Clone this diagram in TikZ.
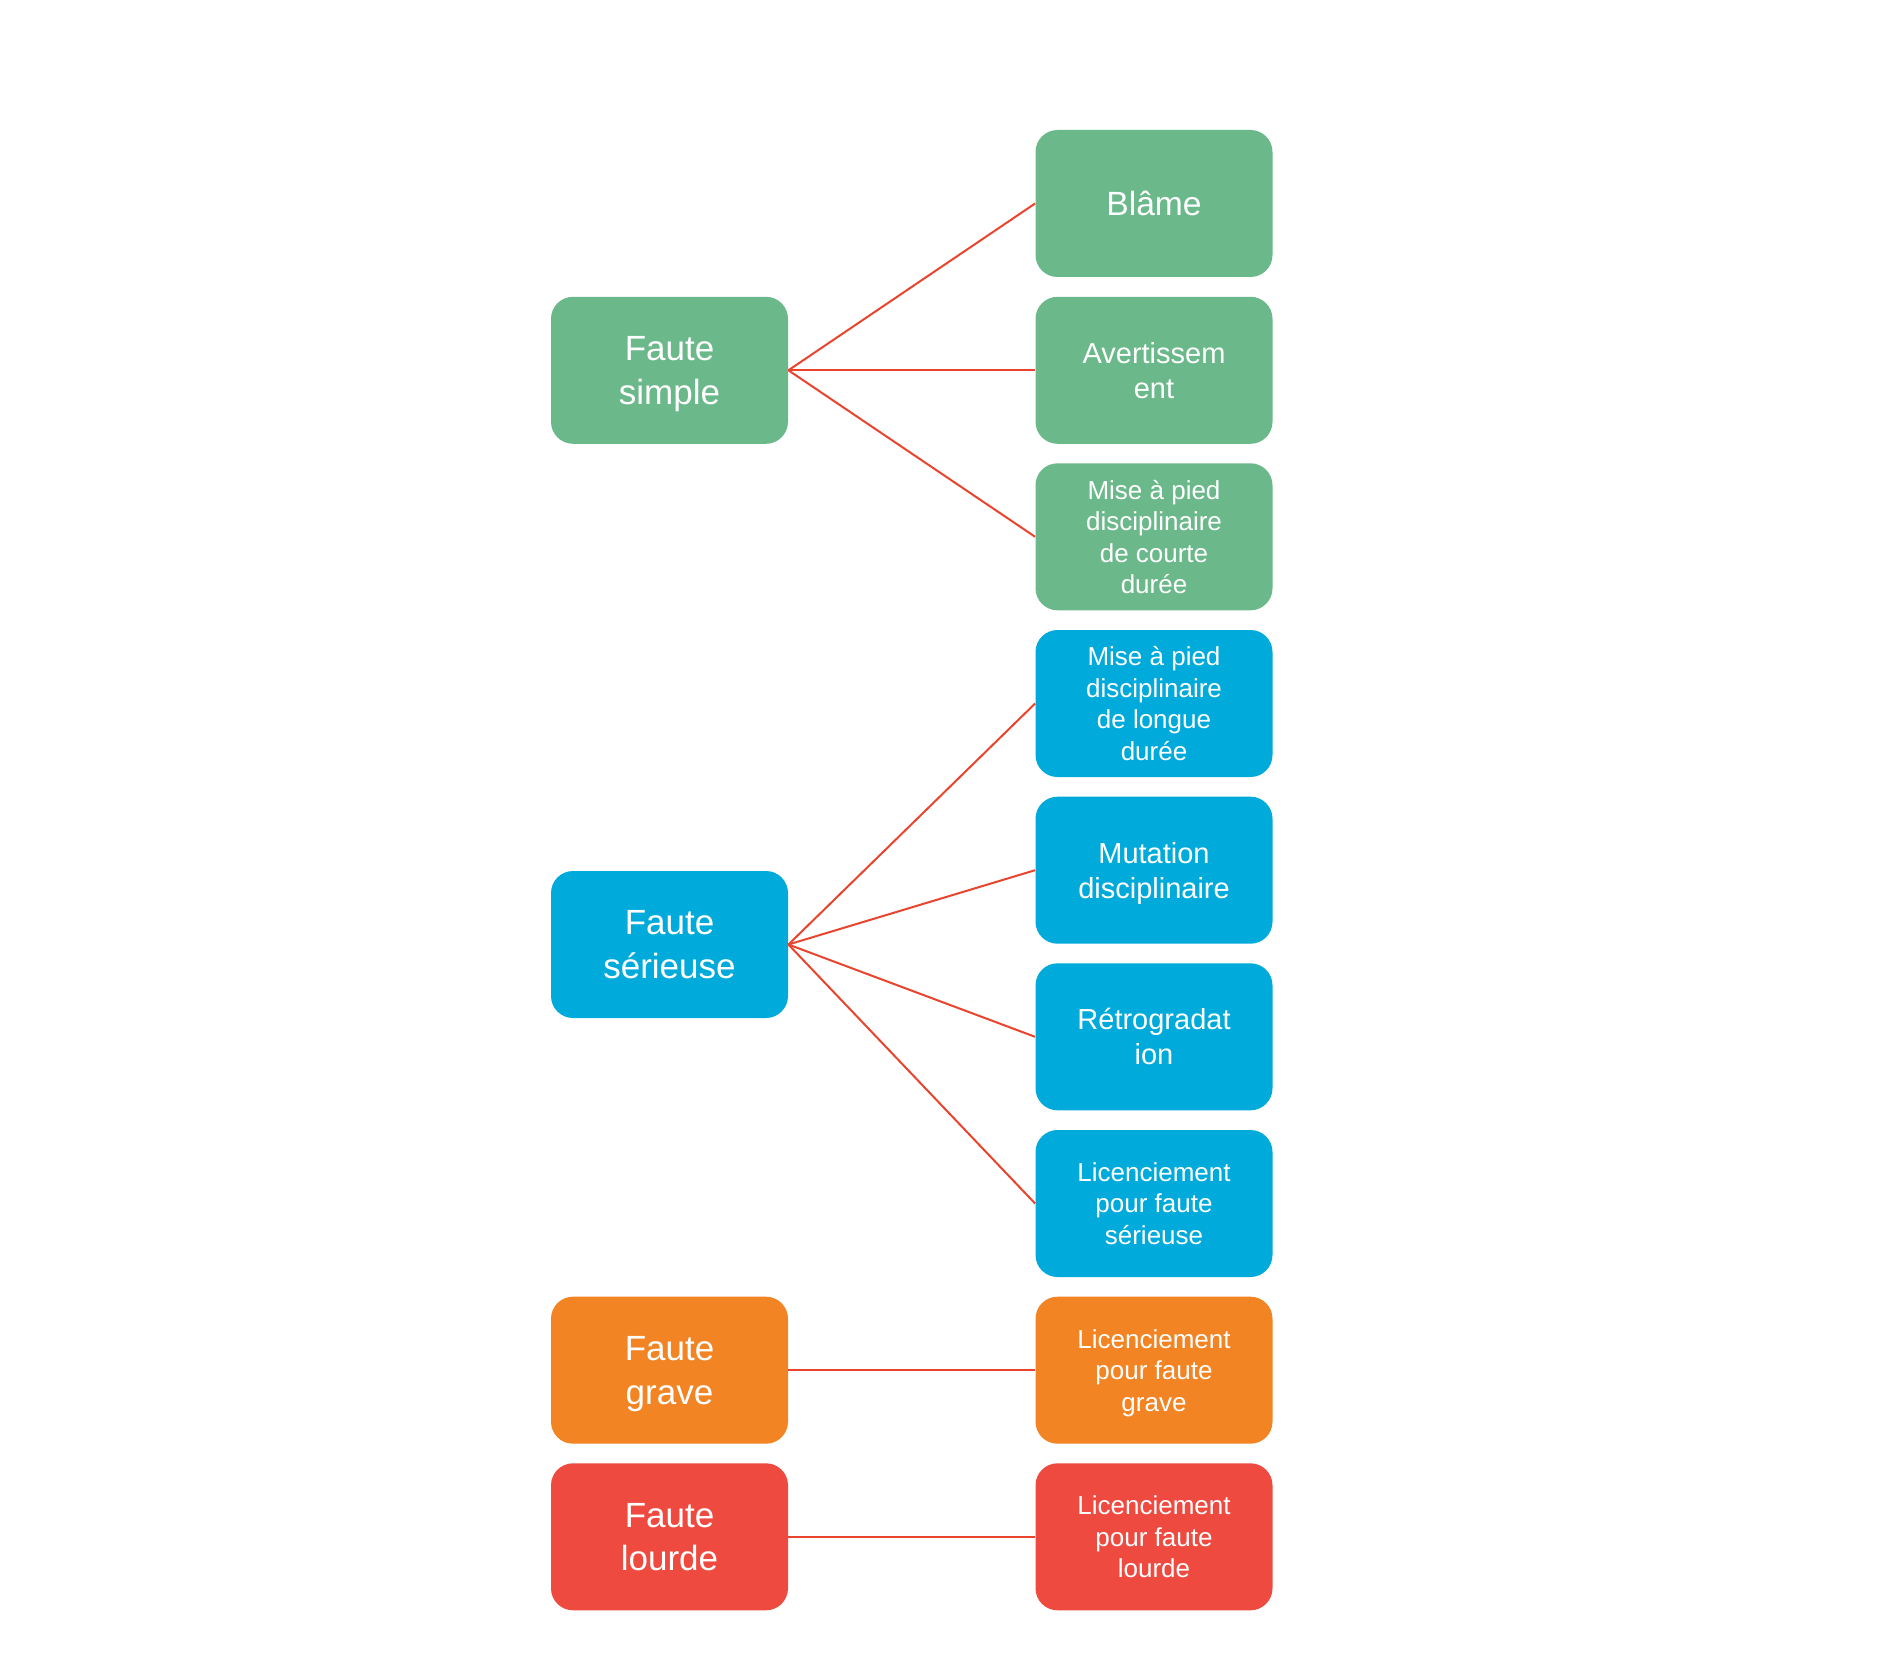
\documentclass[tikz,border=0pt]{standalone}
\usepackage{fontspec}
\setmainfont{Liberation Sans}
\definecolor{cgreen}{HTML}{6BB98A}
\definecolor{cblue}{HTML}{00AADA}
\definecolor{corange}{HTML}{F28423}
\definecolor{cred}{HTML}{EF4A40}
\definecolor{cline}{HTML}{E9452E}
\tikzset{
  box/.style={rectangle, rounded corners=11pt, minimum width=118.5pt, minimum height=73.5pt,
    inner sep=0pt, text=white, align=center, text depth=0pt},
  big/.style={font=\fontsize{17.5}{21.8}\selectfont},
  mid/.style={font=\fontsize{14.5}{17.5}\selectfont},
  small/.style={font=\fontsize{13}{15.7}\selectfont},
  conn/.style={draw=cline, line width=1pt}
}
\begin{document}
\begin{tikzpicture}[x=0.5pt,y=-0.5pt]
\useasboundingbox[fill=white] (0,0) rectangle (1889,1680);
% left column
\node[box,big,fill=cgreen] (fs) at (669.5,370.3) {Faute\\simple};
\node[box,big,fill=cblue] (fse) at (669.5,944.5) {Faute\\sérieuse};
\node[box,big,fill=corange] (fg) at (669.5,1370.2) {Faute\\grave};
\node[box,big,fill=cred] (fl) at (669.5,1536.8) {Faute\\lourde};
% right column
\node[box,fill=cgreen,font=\fontsize{16.8}{20}\selectfont] (r1) at (1154,203.5) {Blâme};
\node[box,mid,fill=cgreen] (r2) at (1154,370.3) {Avertissem\\ent};
\node[box,small,fill=cgreen] (r3) at (1154,536.8) {Mise à pied\\disciplinaire\\de courte\\durée};
\node[box,small,fill=cblue] (r4) at (1154,703.5) {Mise à pied\\disciplinaire\\de longue\\durée};
\node[box,mid,fill=cblue] (r5) at (1154,870.2) {Mutation\\disciplinaire};
\node[box,mid,fill=cblue] (r6) at (1154,1036.8) {Rétrogradat\\ion};
\node[box,small,fill=cblue] (r7) at (1154,1203.5) {Licenciement\\pour faute\\sérieuse};
\node[box,small,fill=corange] (r8) at (1154,1370.2) {Licenciement\\pour faute\\grave};
\node[box,small,fill=cred] (r9) at (1154,1536.8) {Licenciement\\pour faute\\lourde};
% connectors
\draw[conn] (fs.east) -- (r1.west);
\draw[conn] (fs.east) -- (r2.west);
\draw[conn] (fs.east) -- (r3.west);
\draw[conn] (fse.east) -- (r4.west);
\draw[conn] (fse.east) -- (r5.west);
\draw[conn] (fse.east) -- (r6.west);
\draw[conn] (fse.east) -- (r7.west);
\draw[conn] (fg.east) -- (r8.west);
\draw[conn] (fl.east) -- (r9.west);
\end{tikzpicture}
\end{document}
